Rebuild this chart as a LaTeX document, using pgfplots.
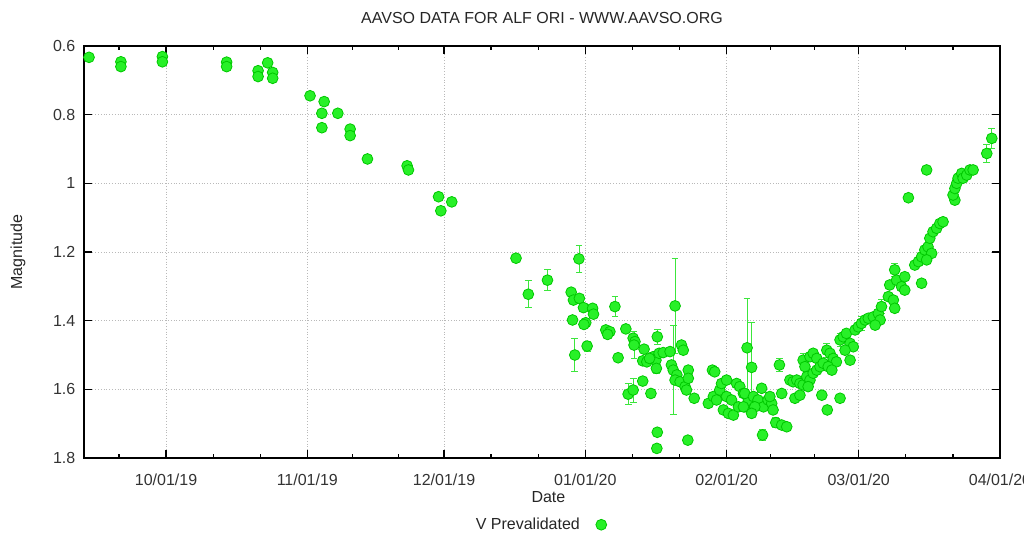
\documentclass[border=0pt]{standalone}
\usepackage{fontspec}
\setmainfont{Liberation Sans}
\usepackage{pgfplots}
\usepackage{pgfplotstable}
\pgfplotsset{compat=1.18}
\definecolor{ptfill}{RGB}{40,240,40}
\definecolor{ptline}{RGB}{0,200,0}
\definecolor{errc}{RGB}{60,230,60}
\pgfplotstableread{
d m e
-16.9 0.633 0
-9.9 0.646 0
-9.9 0.660 0
-0.8 0.631 0
-0.8 0.646 0
13.3 0.647 0
13.3 0.660 0
20.2 0.672 0
20.2 0.689 0
22.3 0.649 0
23.4 0.677 0
23.4 0.694 0
31.6 0.745 0
34.7 0.762 0
34.2 0.796 0
34.2 0.838 0
37.7 0.796 0
40.4 0.842 0
40.4 0.861 0
44.2 0.929 0
52.9 0.949 0
53.2 0.961 0
59.8 1.039 0
60.3 1.080 0
62.7 1.054 0
76.8 1.218 0
79.5 1.323 0.039
83.7 1.282 0.030
90.6 1.220 0.038
88.9 1.317 0
89.4 1.340 0
90.7 1.335 0
91.6 1.362 0
93.6 1.364 0
93.8 1.381 0
89.2 1.398 0
92.1 1.406 0
91.7 1.411 0
92.4 1.474 0.015
89.7 1.500 0.049
98.5 1.359 0.030
96.5 1.427 0
97.4 1.432 0
96.9 1.440 0
99.2 1.508 0
100.9 1.424 0
102.5 1.451 0.01
102.9 1.461 0.01
102.7 1.471 0.04
104.9 1.483 0.01
104.6 1.517 0.01
105.5 1.520 0.01
107.8 1.447 0.023
106.9 1.505 0.01
107.5 1.515 0.01
108.2 1.495 0.01
109.1 1.493 0.01
110.6 1.490 0.01
106.1 1.510 0.01
107.6 1.539 0.015
113.1 1.471 0.01
113.5 1.486 0.01
111.7 1.357 0.137
110.9 1.529 0.01
111.3 1.544 0.13
112.1 1.558 0.01
111.7 1.573 0.01
112.8 1.578 0.01
113.9 1.592 0.01
114.6 1.544 0.01
114.6 1.568 0.01
114.2 1.602 0.01
104.6 1.576 0.01
101.4 1.614 0.030
102.5 1.602 0.035
106.4 1.612 0.01
107.8 1.725 0.01
107.7 1.772 0.01
114.5 1.748 0.01
115.9 1.626 0.01
119.9 1.544 0.01
120.4 1.549 0.01
119.0 1.641 0.01
120.1 1.621 0.01
120.8 1.631 0.01
121.5 1.602 0.015
121.9 1.583 0.01
123.0 1.573 0.01
122.3 1.660 0.01
123.4 1.670 0.01
124.5 1.675 0.01
123.0 1.621 0.01
124.1 1.631 0.01
125.2 1.583 0.01
125.9 1.592 0.01
126.7 1.612 0.01
125.6 1.651 0.01
127.0 1.651 0.01
127.8 1.631 0.01
127.5 1.479 0.145
128.5 1.536 0.13
127.0 1.612 0.01
128.9 1.621 0.01
129.9 1.631 0.01
130.7 1.597 0.01
131.1 1.651 0.01
129.2 1.651 0.01
128.5 1.670 0.01
126.7 1.651 0.01
132.1 1.631 0.01
132.9 1.641 0.01
133.2 1.660 0.01
132.5 1.621 0.01
133.8 1.697 0.015
135.1 1.704 0.01
136.2 1.709 0.01
130.9 1.733 0.015
134.6 1.529 0.02
135.1 1.612 0.01
136.9 1.573 0.01
137.6 1.578 0.01
138.4 1.573 0.01
139.1 1.583 0.01
139.8 1.587 0.01
138.0 1.626 0.01
139.1 1.617 0.01
139.8 1.515 0.02
140.2 1.534 0.01
141.3 1.505 0.01
142.0 1.495 0.01
142.8 1.510 0.01
140.6 1.563 0.01
141.3 1.573 0.01
142.0 1.553 0.01
142.8 1.544 0.01
143.5 1.534 0.01
144.2 1.524 0.01
140.9 1.592 0.01
143.9 1.617 0.01
145.1 1.660 0.01
145.0 1.486 0.02
145.7 1.495 0.01
146.4 1.510 0.01
147.1 1.520 0.01
145.3 1.534 0.01
146.1 1.544 0.01
147.9 1.626 0.01
147.9 1.456 0.02
148.6 1.447 0.01
149.3 1.437 0.01
150.1 1.466 0.01
150.8 1.476 0.01
149.0 1.486 0.01
150.1 1.515 0.01
151.2 1.427 0.01
151.9 1.418 0.01
152.6 1.408 0.02
153.4 1.398 0.01
154.1 1.393 0.01
155.2 1.389 0.01
156.3 1.379 0.01
157.0 1.359 0.02
156.7 1.398 0.01
155.6 1.413 0.01
158.5 1.330 0.01
159.6 1.340 0.01
159.9 1.364 0.01
158.8 1.296 0.01
160.3 1.282 0.01
161.4 1.301 0.01
162.1 1.311 0.01
159.9 1.252 0.02
162.1 1.272 0.01
165.8 1.291 0.01
164.3 1.238 0.01
165.1 1.228 0.01
165.8 1.214 0.01
166.5 1.194 0.01
167.2 1.185 0.01
168.0 1.204 0.01
166.9 1.223 0.01
167.6 1.160 0.01
168.3 1.141 0.01
169.1 1.131 0.01
169.8 1.117 0.01
170.5 1.112 0.01
166.9 0.961 0
162.9 1.042 0
173.1 1.049 0.01
172.7 1.034 0.01
173.1 1.015 0.01
173.5 1.000 0.01
173.8 0.985 0.015
174.6 0.971 0.01
174.9 0.985 0.01
175.7 0.976 0.01
176.4 0.961 0.01
177.1 0.961 0.01
180.1 0.913 0.025
181.2 0.869 0.03
}\datatable

\begin{document}
\fontsize{8}{10}\selectfont
\begin{tikzpicture}
\begin{axis}[
  at={(0,0)}, anchor=south west,
  scale only axis, width=458pt, height=206pt,
  xmin=-18, xmax=183, ymin=0.6, ymax=1.8, y dir=reverse,
  xtick={0,31,61,92,123,152,183},
  xticklabels={10/01/19,11/01/19,12/01/19,01/01/20,02/01/20,03/01/20,04/01/20},
  minor xtick={-10.33,10.33,20.67,41,51,71.33,81.67,102.33,112.67,132.67,142.33,162.33,172.67},
  ytick={0.6,0.8,1,1.2,1.4,1.6,1.8},
  grid=major,
  major grid style={densely dotted, gray!55, line width=0.4pt},
  major tick length=4pt, minor tick length=2pt,
  tick style={black, line width=0.6pt},
  axis line style={line width=0.8pt, black},
  /pgf/number format/assume math mode=true,
  tick label style={font=\fontsize{8}{10}\selectfont, text=black!80},
  xticklabel style={yshift=-5pt},
  yticklabel style={xshift=-1.5pt},
  title={AAVSO DATA FOR ALF ORI - WWW.AAVSO.ORG},
  title style={at={(axis description cs:0.5,1)}, anchor=base, yshift=5pt, font=\fontsize{8}{10}\selectfont, text=black!85},
  xlabel={Date},
  xlabel style={at={(axis description cs:0.507,-0.095)}, anchor=center, font=\fontsize{8}{10}\selectfont, text=black!85},
  ylabel={Magnitude},
  ylabel style={at={(axis description cs:-0.072,0.5)}, anchor=center, font=\fontsize{8}{10}\selectfont, text=black!85},
  legend plot pos=right,
  legend style={at={(axis description cs:0.497,-0.162)}, anchor=center, draw=none, fill=none, column sep=6pt, font=\fontsize{8}{10}\selectfont, text=black!85},
]
\addplot[only marks, mark=*, mark size=2.7pt,
  mark options={fill=ptfill, draw=ptline, line width=0.4pt},
  error bars/.cd, y dir=both, y explicit,
  error bar style={errc, line width=0.4pt},
  error mark options={rotate=90, errc, mark size=1.7pt, line width=0.4pt}]
  table[x=d, y=m, y error=e] {\datatable};
\addlegendentry{V Prevalidated}
\end{axis}
\pgfresetboundingbox
\path (-42pt,-38pt) rectangle (470pt,229pt);
\end{tikzpicture}
\end{document}
